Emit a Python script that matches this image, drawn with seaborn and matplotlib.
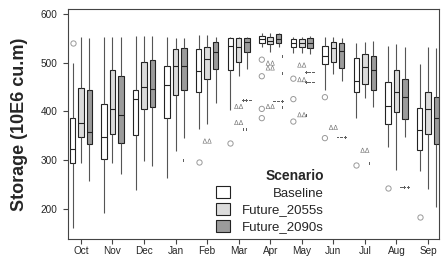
import numpy as np
import pandas as pd
import matplotlib
matplotlib.use('Agg')
import matplotlib.pyplot as plt
import seaborn as sns

months = ['Oct', 'Nov', 'Dec', 'Jan', 'Feb', 'Mar', 'Apr', 'May', 'Jun', 'Jul', 'Aug', 'Sep']
scenarios = ['Baseline', 'Future_2055s', 'Future_2090s']

# five numbers per month: whisker low, Q1, median, Q3, whisker high
baseline_box = [
    [160, 294, 323, 387, 500], [192, 303, 347, 415, 553], [238, 351, 426, 444, 555],
    [263, 387, 454, 493, 552], [364, 440, 482, 528, 557], [403, 484, 534, 550, 552],
    [531, 540, 548, 555, 560], [519, 532, 541, 548, 553], [444, 497, 514, 535, 552],
    [386, 439, 463, 509, 541], [327, 374, 410, 461, 534], [278, 321, 362, 406, 497],
]
f2055_box = [
    [294, 347, 376, 448, 552], [294, 354, 404, 484, 553], [299, 405, 450, 502, 555],
    [318, 434, 493, 528, 551], [374, 466, 507, 533, 557], [473, 502, 531, 550, 552],
    [522, 538, 545, 552, 560], [520, 531, 540, 548, 553], [477, 502, 530, 542, 552],
    [428, 456, 491, 517, 543], [280, 398, 439, 484, 538], [240, 353, 404, 439, 532],
]
f2090_box = [
    [258, 333, 358, 443, 550], [272, 336, 393, 473, 553], [287, 409, 446, 505, 555],
    [345, 444, 493, 529, 551], [417, 487, 521, 543, 552], [487, 521, 542, 550, 552],
    [533, 540, 548, 558, 561], [518, 529, 541, 551, 554], [463, 489, 523, 540, 550],
    [409, 443, 484, 514, 545], [348, 385, 430, 467, 533], [203, 333, 386, 430, 530],
]

# outliers
baseline_out = {'Oct': [541], 'Feb': [295], 'Mar': [335], 'Apr': [506, 472, 405, 386],
                'May': [467, 425, 379], 'Jun': [429, 345], 'Jul': [289], 'Aug': [242], 'Sep': [184]}
f2055_out = {'Feb': [339], 'Mar': [410, 377], 'Apr': [499, 489, 410],
             'May': [495, 465, 393], 'Jun': [367], 'Jul': [320]}
f2090_out = {'Jan': [300], 'Feb': [395, 318], 'Mar': [422, 362], 'Apr': [512, 477, 420, 407],
             'May': [480, 459, 391], 'Jun': [346], 'Jul': [292], 'Aug': [244]}

colors = {'Baseline': '#ffffff', 'Future_2055s': '#dcdcdc', 'Future_2090s': '#9b9b9b'}

sns.set_style('ticks')
plt.rcParams['font.family'] = ['Liberation Sans', 'DejaVu Sans']

rows = []
for scen, boxes in zip(scenarios, [baseline_box, f2055_box, f2090_box]):
    for m, vals in zip(months, boxes):
        for v in vals:
            rows.append((m, scen, v))
box_df = pd.DataFrame(rows, columns=['Month', 'Scenario', 'Storage'])

rows = []
for scen, outs in zip(scenarios, [baseline_out, f2055_out, f2090_out]):
    for m, vals in outs.items():
        for v in vals:
            rows.append((m, scen, v))
out_df = pd.DataFrame(rows, columns=['Month', 'Scenario', 'Storage'])

fig, ax = plt.subplots(figsize=(4.45, 2.61), dpi=100)
fig.subplots_adjust(left=68 / 445, right=439 / 445, bottom=22 / 261, top=252 / 261)

sns.boxplot(data=box_df, x='Month', y='Storage', hue='Scenario', order=months,
            hue_order=scenarios, palette=colors, saturation=1, whis=(0, 100),
            showfliers=False, showcaps=False, width=0.8, gap=0.35,
            linecolor='#222222', linewidth=0.8,
            whiskerprops={'color': '#555555'}, ax=ax)

# outlier markers, one style per scenario
styles = {
    'Baseline': dict(marker='o', size=3.8, linewidth=0.7, edgecolor='#999999',
                     pal='#ffffff'),
    'Future_2055s': dict(marker=r'$\Delta\Delta$', size=6.5, linewidth=0,
                         edgecolor='none', pal='#707070'),
    'Future_2090s': dict(marker=r'$+\!\!+\!\!+$', size=7.5, linewidth=0,
                         edgecolor='none', pal='#606060'),
}
for scen in scenarios:
    st = styles[scen]
    sub = out_df[out_df['Scenario'] == scen]
    sns.stripplot(data=sub, x='Month', y='Storage', hue='Scenario', order=months,
                  hue_order=scenarios, palette={s: st['pal'] for s in scenarios},
                  dodge=True, jitter=False, marker=st['marker'], size=st['size'],
                  linewidth=st['linewidth'], edgecolor=st['edgecolor'],
                  legend=False, ax=ax)

ax.set_xlim(-0.41, 11.35)
ax.set_ylim(138, 610)
ax.set_yticks([200, 300, 400, 500, 600])
ax.set_xlabel('')
ax.set_ylabel('Storage (10E6 cu.m)', fontsize=13, fontweight='bold', labelpad=9)
ax.tick_params(axis='both', labelsize=7.2, length=3.5, width=0.8, color='#444444')
ax.tick_params(axis='x', pad=1.5)
ax.tick_params(axis='y', pad=4)
for sp in ax.spines.values():
    sp.set_visible(True)
    sp.set_color('#444444')
    sp.set_linewidth(0.8)

old = ax.get_legend()
handles = old.legend_handles
labels = [t.get_text() for t in old.get_texts()]
old.remove()
for h in handles:
    h.set_edgecolor('#222222')
    h.set_linewidth(0.8)
leg = ax.legend(handles, labels, title='Scenario', loc='lower left',
                bbox_to_anchor=(0.40, 0.025), frameon=False, borderpad=0,
                borderaxespad=0, handlelength=1.05, handleheight=1.0,
                handletextpad=0.9, labelspacing=0.25, fontsize=9.5,
                title_fontproperties={'weight': 'bold', 'size': 10},
                alignment='right')

# right-align the legend labels like the original
fig.canvas.draw()
r = fig.canvas.get_renderer()
texts = leg.get_texts()
ws = [t.get_window_extent(r).width for t in texts]
for t, w in zip(texts, ws):
    t.set_x(max(ws) - w)

fig.savefig('out.png', dpi=100)
